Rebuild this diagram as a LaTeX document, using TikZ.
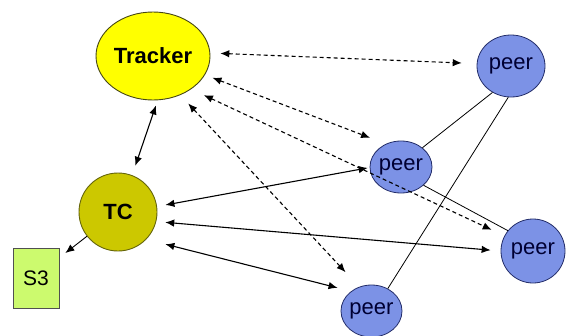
\documentclass[tikz,border=0pt]{standalone}
\usepackage{fontspec}
\setmainfont{Liberation Sans}
\usetikzlibrary{shapes.geometric,arrows.meta}
\definecolor{trfill}{RGB}{255,255,0}
\definecolor{trline}{RGB}{70,70,20}
\definecolor{tcfill}{RGB}{204,200,0}
\definecolor{tcline}{RGB}{100,100,10}
\definecolor{peerfill}{RGB}{124,146,230}
\definecolor{peerline}{RGB}{35,45,105}
\definecolor{sfill}{RGB}{204,250,110}
\definecolor{sline}{RGB}{80,80,80}
\tikzset{
  tracker/.style={ellipse, draw=trline, fill=trfill, line width=0.9pt, inner sep=0pt,
    minimum width=114pt, minimum height=88pt, font=\fontsize{22}{22}\selectfont\bfseries},
  tcnode/.style={circle, draw=tcline, fill=tcfill, line width=0.9pt, inner sep=0pt,
    minimum size=78pt, font=\fontsize{22}{22}\selectfont\bfseries},
  peer/.style={ellipse, draw=peerline, fill=peerfill, line width=0.8pt, inner sep=0pt,
    font=\fontsize{22}{22}\selectfont, text=black!80!blue},
  sbox/.style={rectangle, draw=sline, fill=sfill, line width=0.7pt, inner sep=0pt,
    minimum width=46pt, minimum height=60pt, font=\fontsize{21}{21}\selectfont},
  darr/.style={{Latex[length=9pt,width=7.5pt]}-{Latex[length=9pt,width=7.5pt]}, line width=1.1pt, dash pattern=on 4pt off 3pt},
  sarr/.style={{Latex[length=9pt,width=7.5pt]}-{Latex[length=9pt,width=7.5pt]}, line width=1.1pt},
  oarr/.style={-{Latex[length=9pt,width=7.5pt]}, line width=0.9pt},
  link/.style={line width=0.8pt}
}
\begin{document}
\begin{tikzpicture}[x=1pt,y=-1pt]
\useasboundingbox (0,0) rectangle (568,335);
\node[tracker] (t) at (153,56) {\makebox[0pt]{Tracker}};
\node[tcnode] (tc) at (118,212) {\makebox[0pt]{TC}};
\node[sbox] (s3) at (36,278) {\makebox[0pt]{S3}};
\node[peer, minimum width=62pt, minimum height=52pt] (mp) at (401,167) {\makebox[0pt]{peer}};
\node[peer, minimum width=68pt, minimum height=62pt] (tp) at (511,66) {\makebox[0pt]{peer}};
\node[peer, minimum width=64pt, minimum height=64pt] (rp) at (533,251) {\makebox[0pt]{peer}};
\node[peer, minimum width=61pt, minimum height=52pt] (bp) at (371.5,311) {\makebox[0pt]{peer}};
% undirected peer links
\draw[link] (mp.42) -- (tp.-125);
\draw[link] (bp.54) -- (tp.-95);
\draw[link] (mp.-39) -- (rp.141);
% tracker dashed arrows
\draw[darr, shorten <=10pt, shorten >=15pt] (t.3) -- (tp.176);
\draw[darr, shorten <=8pt, shorten >=17pt] (t.-20) -- (mp.123);
\draw[darr, shorten <=14pt, shorten >=14pt] (t.-41) -- (rp.152);
\draw[darr, shorten <=11.5pt, shorten >=20pt] (t.-55) -- (bp.117);
% solid arrows
\draw[sarr, shorten <=5.5pt, shorten >=10pt] (t.-84) -- (tc.69);
\draw[oarr, shorten >=7.6pt] (tc.-142) -- (s3.41);
\draw[sarr, shorten <=8.5pt, shorten >=2pt] (tc.8) -- (mp.181);
\draw[sarr, shorten <=9pt, shorten >=10pt] (tc.-14) -- (rp.180);
\draw[sarr, shorten <=19.6pt, shorten >=13.9pt] (tc.-44) -- (bp.136);
\end{tikzpicture}
\end{document}
